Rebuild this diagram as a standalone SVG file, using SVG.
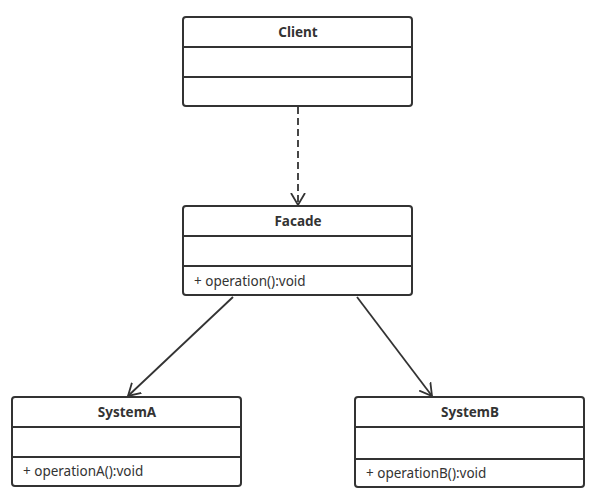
<svg xmlns="http://www.w3.org/2000/svg" width="597" height="497" viewBox="0 0 597 497">
<style>
.box{fill:#fff;stroke:#333;stroke-width:2}
.div{stroke:#333;stroke-width:2}
.title{font-family:"Noto Sans","Open Sans",sans-serif;font-size:13.5px;font-weight:bold;fill:#333;text-anchor:middle}
.op{font-family:"Noto Sans","Open Sans",sans-serif;font-size:13.5px;fill:#333}
.conn{stroke:#333;stroke-width:1.8;fill:none}
</style>
<defs>
<marker id="open" markerWidth="16" markerHeight="16" refX="12" refY="7" orient="auto" markerUnits="userSpaceOnUse" viewBox="0 0 16 14">
<path d="M0,0 L12,7 L0,14" fill="none" stroke="#333" stroke-width="1.8"/>
</marker>
</defs>
<rect width="597" height="497" fill="#fff"/>
<g id="connectors">
<line class="conn" x1="298" y1="107" x2="298" y2="205" stroke-dasharray="7,4" marker-end="url(#open)"/>
<line class="conn" x1="233" y1="297" x2="128" y2="396" marker-end="url(#open)"/>
<line class="conn" x1="357" y1="297" x2="432" y2="396" marker-end="url(#open)"/>
</g>
<g id="client">
<rect class="box" x="183" y="17" width="229" height="89" rx="3"/>
<line class="div" x1="183" y1="47" x2="412" y2="47"/>
<line class="div" x1="183" y1="77" x2="412" y2="77"/>
<text class="title" x="298" y="37">Client</text>
</g>
<g id="facade">
<rect class="box" x="183" y="206" width="229" height="89" rx="3"/>
<line class="div" x1="183" y1="236" x2="412" y2="236"/>
<line class="div" x1="183" y1="266" x2="412" y2="266"/>
<text class="title" x="298" y="226">Facade</text>
<text class="op" x="194" y="286">+ operation():void</text>
</g>
<g id="systemA">
<rect class="box" x="12" y="397" width="229" height="89" rx="3"/>
<line class="div" x1="12" y1="427" x2="241" y2="427"/>
<line class="div" x1="12" y1="457" x2="241" y2="457"/>
<text class="title" x="127" y="417">SystemA</text>
<text class="op" x="23" y="476">+ operationA():void</text>
</g>
<g id="systemB">
<rect class="box" x="355" y="397" width="229" height="90" rx="3"/>
<line class="div" x1="355" y1="427" x2="584" y2="427"/>
<line class="div" x1="355" y1="459" x2="584" y2="459"/>
<text class="title" x="470" y="417">SystemB</text>
<text class="op" x="366" y="478">+ operationB():void</text>
</g>
</svg>
